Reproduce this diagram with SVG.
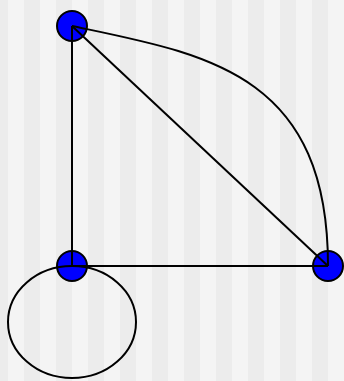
<svg xmlns="http://www.w3.org/2000/svg" width="344" height="381" viewBox="0 0 344 381">
  <style>
    .node { fill: #0000ff; stroke: #000; stroke-width: 2; }
    .edge { fill: none; stroke: #000; stroke-width: 2; }
  </style>
  <defs>
    <pattern id="stripes" x="-8" y="0" width="32" height="381" patternUnits="userSpaceOnUse">
      <rect x="0" y="0" width="16" height="381" fill="#ececec"/>
      <rect x="16" y="0" width="16" height="381" fill="#f4f4f4"/>
    </pattern>
  </defs>
  <rect width="344" height="381" fill="url(#stripes)"/>
  <g id="n0"><circle class="node" cx="72" cy="26" r="15"/></g>
  <g id="n1"><circle class="node" cx="72" cy="266" r="15"/></g>
  <g id="n2"><circle class="node" cx="328" cy="266" r="15"/></g>
  <g id="edges">
    <line class="edge" x1="72" y1="26" x2="72" y2="266"/>
    <line class="edge" x1="72" y1="26" x2="328" y2="266"/>
    <line class="edge" x1="72" y1="266" x2="328" y2="266"/>
    <path class="edge" d="M72,26 C205,54 328,72 328,266"/>
    <ellipse class="edge" cx="72" cy="322" rx="64" ry="56"/>
  </g>
</svg>
